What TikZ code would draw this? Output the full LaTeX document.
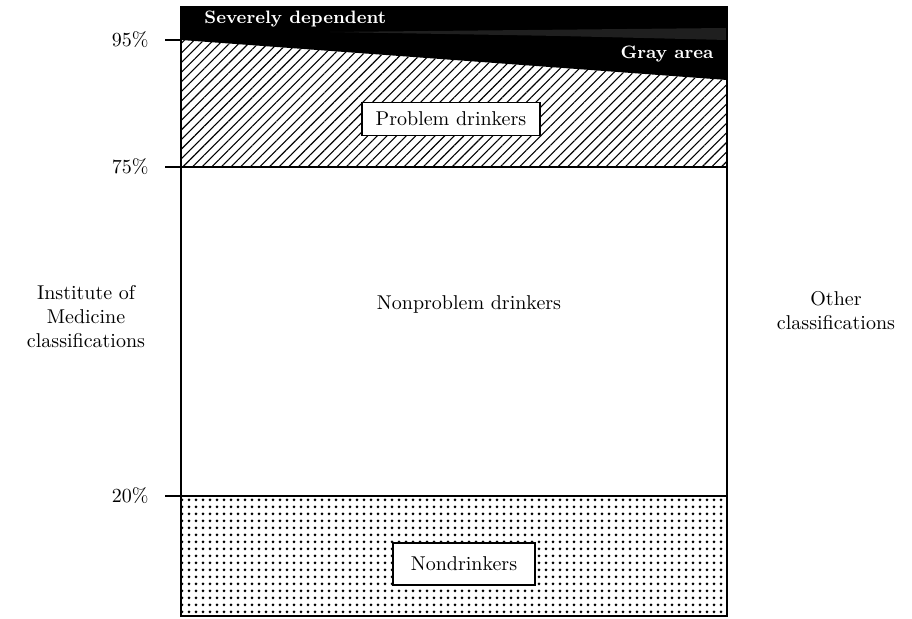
\documentclass[tikz,border=0pt]{standalone}
\usetikzlibrary{patterns.meta}
\tikzset{
  tag/.style={draw, fill=white, thick, inner sep=3pt},
  pct/.style={anchor=east},
  side/.style={align=center, font=\normalsize},
  hatch/.style={pattern={Lines[angle=45, distance=3.4pt, line width=0.55pt]}},
  stipple/.style={pattern={Dots[distance=3.5pt, radius=0.75pt]}}
}
\begin{document}
\begin{tikzpicture}[x=0.5pt, y=-0.5pt, thick]
\useasboundingbox (0,0) rectangle (912,619);
%
\coordinate (tl) at (181,7);
\coordinate (tr) at (727,7);
\coordinate (gl) at (181,40);
\coordinate (gr) at (727,80);
\coordinate (pl) at (181,167);
\coordinate (pr) at (727,167);
\coordinate (nl) at (181,496);
\coordinate (nr) at (727,496);
\coordinate (bl) at (181,616);
\coordinate (br) at (727,616);
%
\fill[black] (tl) -- (tr) -- (gr) -- (gl) -- cycle;
\fill[black!88] (330,32) -- (727,28) -- (727,40) -- (560,36) -- cycle;
\fill[hatch] (gl) -- (gr) -- (pr) -- (pl) -- cycle;
\fill[stipple] (nl) -- (nr) -- (br) -- (bl) -- cycle;
%
\draw (tl) rectangle (br);
\draw (pl) -- (pr) (nl) -- (nr);
\draw
(gl) -- +(-16,0)
(pl) -- +(-16,0)
(nl) -- +(-16,0);
%
\draw
(156,40) node[pct] (p95) {95\%}
(156,167) node[pct] (p75) {75\%}
(156,496) node[pct] (p20) {20\%};
%
\node[text=white, font=\small\bfseries, anchor=west] (sev) at (197,19) {Severely dependent};
\node[text=white, font=\small\bfseries, anchor=east] (gray) at (721,54) {Gray area};
\node[tag, minimum width=89pt, minimum height=16.5pt] (prob) at (451,119) {Problem drinkers};
\node (nonprob) at (469,305) {Nonproblem drinkers};
\node[tag, minimum width=71pt, minimum height=21pt] (nond) at (464,564) {Nondrinkers};
%
\node[side] (iom) at (86,317) {Institute of\\Medicine\\classifications};
\node[side] (other) at (836,311) {Other\\classifications};
%
\end{tikzpicture}
\end{document}
